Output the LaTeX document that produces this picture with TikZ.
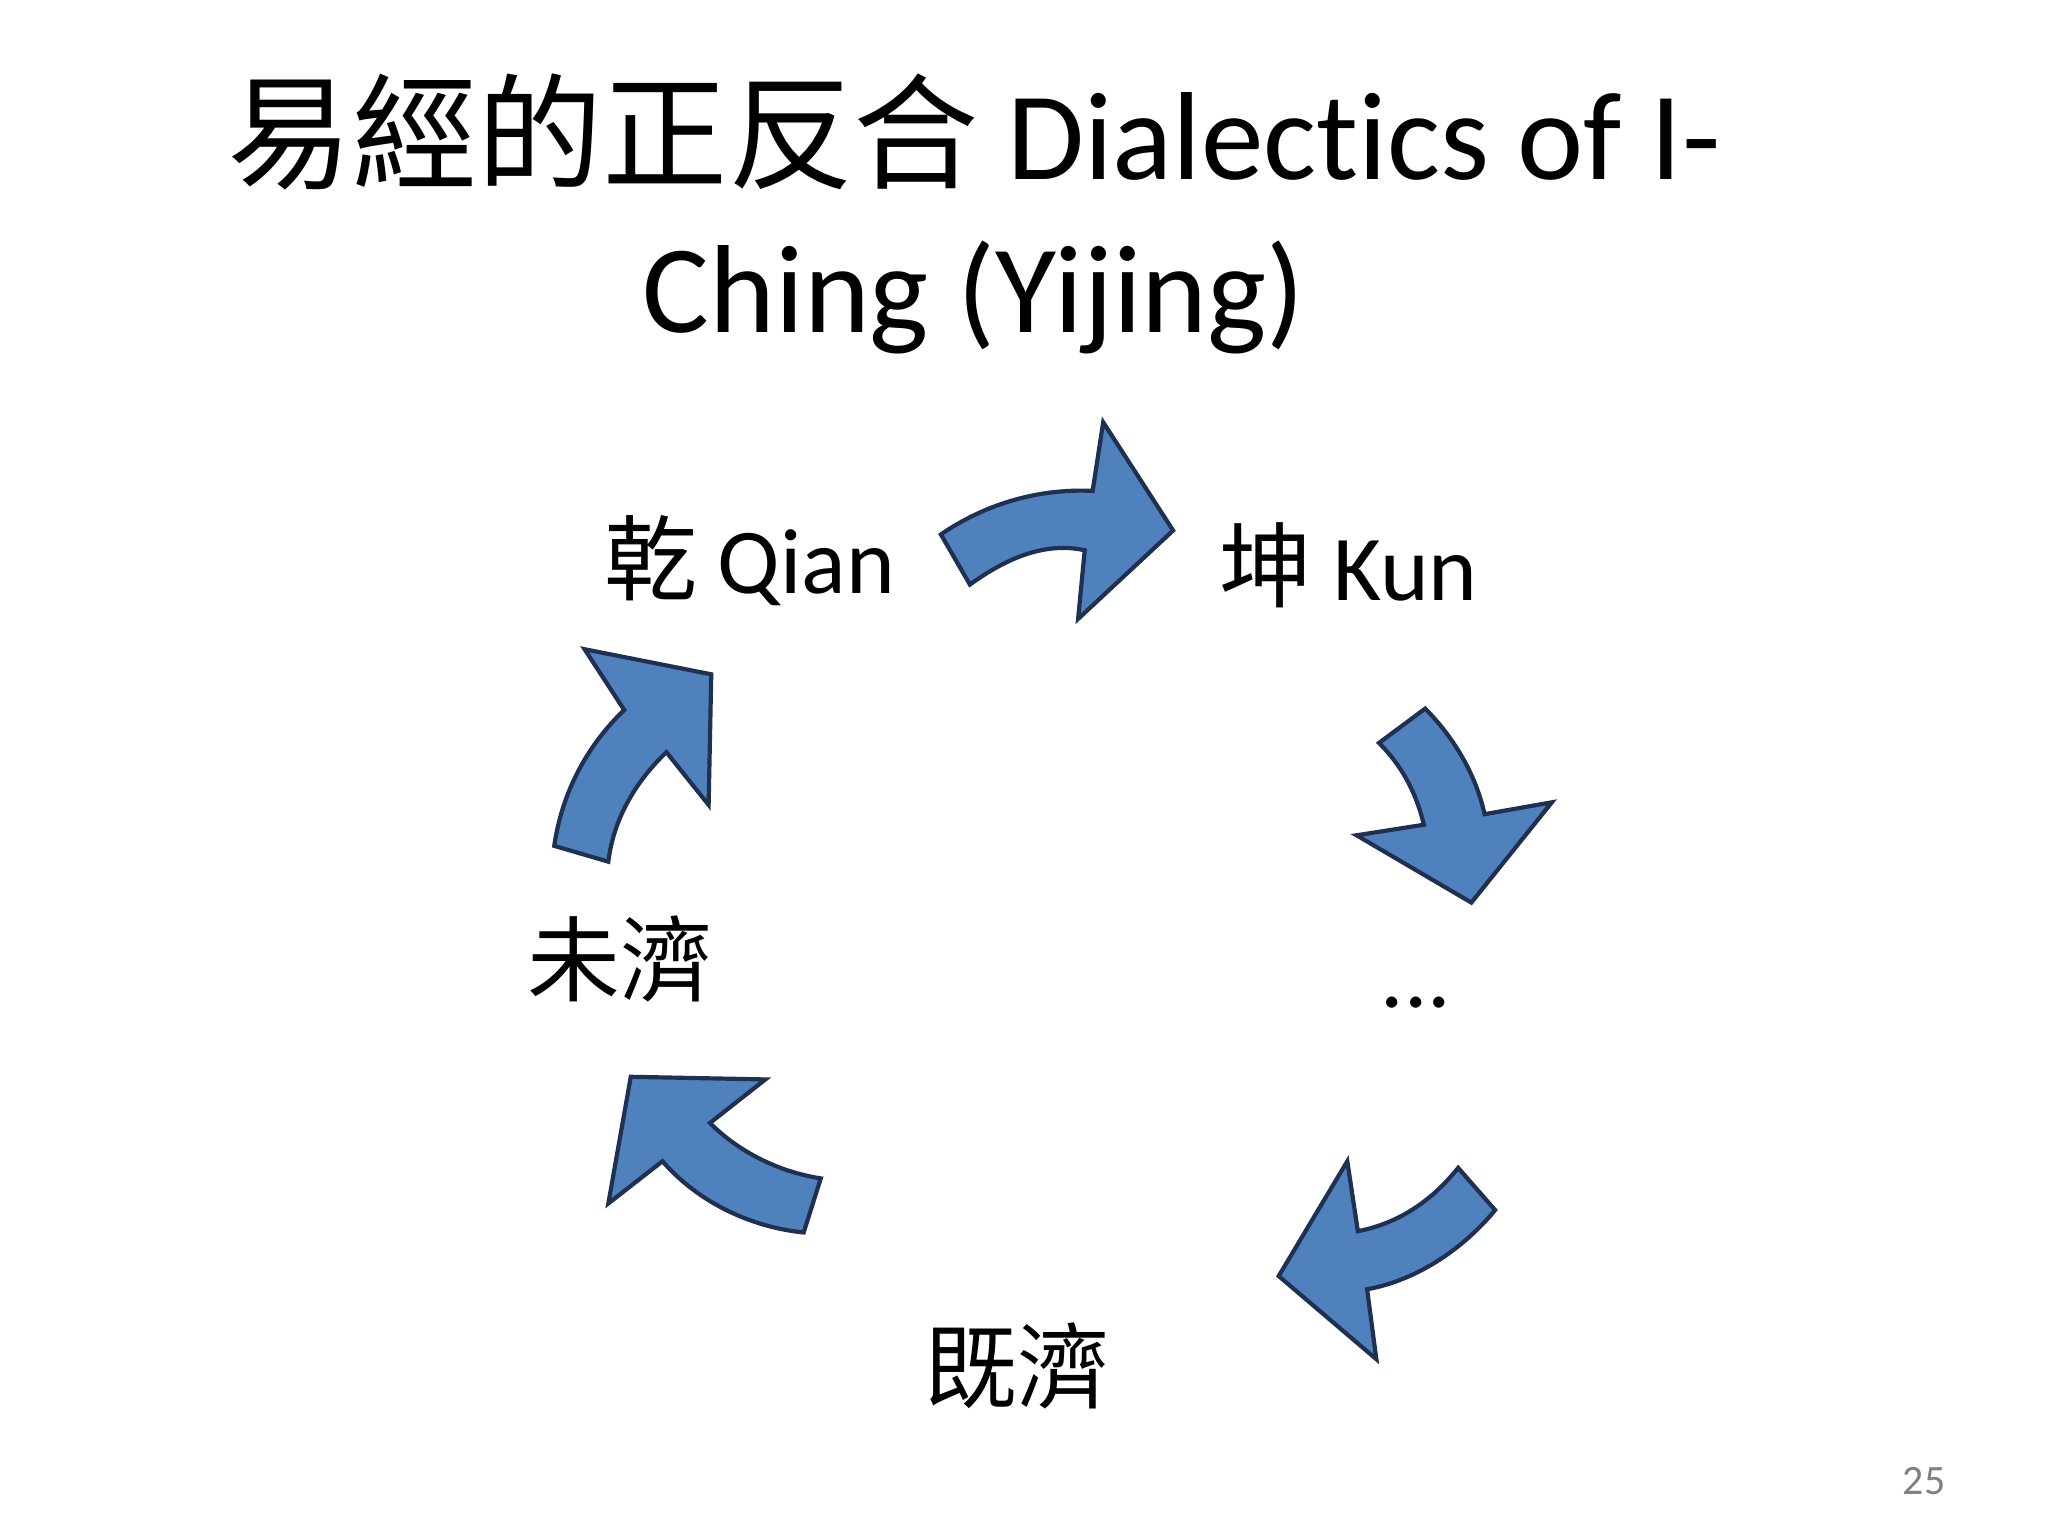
\documentclass[tikz,border=0pt]{standalone}
\usepackage{fontspec}
\setmainfont{Carlito}[Ligatures=NoCommon]
\newfontfamily\cjk{Noto Sans CJK TC}
\definecolor{arrfill}{HTML}{4F81BD}
\definecolor{arredge}{HTML}{1F3050}
\begin{document}
\begin{tikzpicture}[x=0.01cm,y=-0.01cm,
  blk/.style={fill=arrfill,draw=arredge,line width=0.9pt,line join=miter},
  lbl/.style={font=\fontsize{20}{24}\selectfont,inner sep=0pt}]
\useasboundingbox[fill=white] (0,0) rectangle (1552,1164);
\node[inner sep=0pt,align=center,font=\fontsize{27}{33}\selectfont] (title) at (738,162)
  {{\cjk 易經的正反合} Dialectics of I-\\Ching (Yijing)};
\node[lbl] (qian) at (568,425) {{\cjk 乾} Qian};
\node[lbl] (kun) at (1022,428) {{\cjk 坤} Kun};
\node[lbl] (weiji) at (470,727) {\cjk 未濟};
\node[lbl] (dots) at (1073,760) {...};
\node[lbl] (jiji) at (771,1035) {\cjk 既濟};
\node[inner sep=0pt,text=gray,font=\fontsize{9}{11}\selectfont] (pg) at (1458,1122) {25};
\path[blk] (713,405) .. controls (745,383) and (785,370) .. (828,372) -- (836,320) -- (889,402) -- (817,469) -- (822,417) .. controls (790,410) and (760,425) .. (735,443) -- cycle;
\path[blk] (1045,563) -- (1080,537) .. controls (1100,557) and (1118,585) .. (1125,617) -- (1176,608) -- (1115,684) -- (1028,633) -- (1079,625) .. controls (1073,600) and (1062,580) .. (1045,563) -- cycle;
\path[blk] (1105,885) .. controls (1085,910) and (1060,927) .. (1029,933) -- (1021,880) -- (969,967) -- (1043,1030) -- (1036,977) .. controls (1075,970) and (1110,945) .. (1133,917) -- cycle;
\path[blk] (622,893) .. controls (590,888) and (560,873) .. (538,851) -- (580,818) -- (478,816) -- (461,912) -- (502,880) .. controls (530,912) and (570,930) .. (609,934) -- cycle;
\path[blk] (420,641) .. controls (426,600) and (445,565) .. (473,538) -- (443,492) -- (539,511) -- (537,610) -- (505,570) .. controls (482,592) and (465,620) .. (461,653) -- cycle;
\end{tikzpicture}
\end{document}
